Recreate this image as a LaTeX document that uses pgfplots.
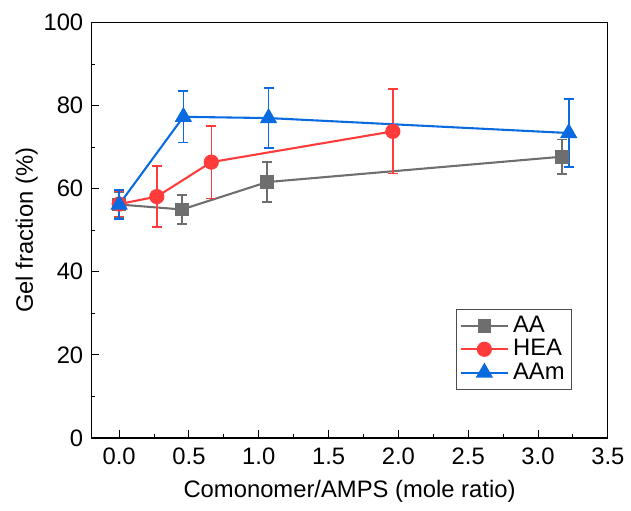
\documentclass[border=0pt]{standalone}
\usepackage{fontspec}
\setmainfont{Liberation Sans}
\usepackage{pgfplots}
\pgfplotsset{compat=1.18}

\definecolor{cAA}{HTML}{6E6E6E}
\definecolor{cHEA}{HTML}{FF3B3B}
\definecolor{cAAm}{HTML}{0A6BE0}

\begin{document}
\begin{tikzpicture}
\begin{axis}[
    name=ax,
    scale only axis,
    width=260.5pt,
    height=209.5pt,
    font=\fontsize{12}{14}\selectfont,
    /pgf/number format/assume math mode=true,
    xmin=-0.2, xmax=3.5,
    ymin=0, ymax=100,
    xtick={0,0.5,...,3.5},
    ytick={0,20,...,100},
    minor tick num=1,
    xticklabel style={yshift=-1.5pt,/pgf/number format/.cd,fixed,fixed zerofill,precision=1},
    yticklabel style={xshift=-0.5pt},
    tick align=inside,
    tick pos=left,
    major tick length=4pt,
    minor tick length=2pt,
    axis line style={line width=0.6pt},
    every tick/.style={black,line width=0.5pt},
    xlabel={Comonomer/AMPS (mole ratio)},
    ylabel={Gel fraction (\%)},
    every axis x label/.style={at={(rel axis cs:0.5,0)},yshift=-27pt,anchor=center},
    every axis y label/.style={at={(rel axis cs:0,0.5)},xshift=-32.5pt,rotate=90,anchor=center},
    legend cell align=left,
    legend style={at={(0.931,0.116)},anchor=south east,draw=black!70,line width=0.6pt,
        font=\fontsize{12}{14}\selectfont,row sep=-2pt,inner sep=1.5pt},
    legend image code/.code={\draw[mark repeat=2,mark phase=2]
        plot coordinates {(0cm,0cm) (0.42cm,0cm) (0.84cm,0cm)};},
    every axis plot/.append style={line width=1.05pt},
    error bars/error bar style={line width=0.75pt},
    error bars/error mark options={rotate=90,mark size=2.5pt,line width=0.75pt},
]
\addplot[color=cAA,mark=square*,mark size=2.9pt,
    error bars/.cd,y dir=both,y explicit]
    table[x=x,y=y,y error=e]{
x y e
0 56.2 3.0
0.45 55.0 3.5
1.06 61.6 4.8
3.17 67.7 4.2
};
\addlegendentry{AA}
\addplot[color=cHEA,mark=*,mark size=3.3pt,
    error bars/.cd,y dir=both,y explicit]
    table[x=x,y=y,y error=e]{
x y e
0 56.3 3.0
0.27 58.1 7.35
0.66 66.4 8.75
1.96 73.8 10.2
};
\addlegendentry{HEA}
\addplot[color=cAAm,mark=triangle*,mark size=4pt,
    error bars/.cd,y dir=both,y explicit]
    table[x=x,y=y,y error=e]{
x y e
0 56.2 3.5
0.46 77.3 6.2
1.07 77.0 7.2
3.22 73.4 8.2
};
\addlegendentry{AAm}
\end{axis}
\path (ax.south west) ++(-46pt,-36.5pt) (ax.north east) ++(9pt,11.35pt);
\end{tikzpicture}
\end{document}
